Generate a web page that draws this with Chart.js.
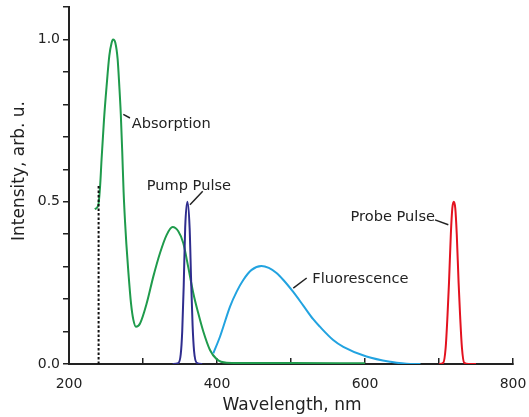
<!DOCTYPE html>
<html>
<head>
<meta charset="utf-8">
<script src="https://cdn.jsdelivr.net/npm/chart.js@4/dist/chart.umd.min.js"></script>
<style>
html,body{margin:0;padding:0;background:#fff;}
#wrap{width:529px;height:417px;}
</style>
</head>
<body>
<div id="wrap"><canvas id="c" width="529" height="417"></canvas></div>
<script>
// ---- data ----
const absorptionX = [235,239.6,242,244,247.3,250.8,254.5,257.6,259.5,262.6,265.7,268,270,272,273.8,275.7,277.5,280,283.8,287,290.5,296,305,314,323,332,340,347.7,354.5,361,368,374.7,381.5,390.5,399.5,413,450,500,600];
const absorptionY = [0.477,0.49,0.547,0.63,0.753,0.856,0.95,0.99,1.0,0.99,0.94,0.856,0.77,0.65,0.53,0.44,0.37,0.29,0.187,0.136,0.115,0.125,0.187,0.27,0.342,0.398,0.422,0.409,0.372,0.30,0.218,0.156,0.10,0.043,0.015,0.004,0.003,0.003,0.002];

const pumpX = [340,347.7,351,353,355,357,360,363,365,367,369,372.5,380];
const pumpY = [0,0.003,0.03,0.1,0.24,0.42,0.5,0.42,0.26,0.12,0.04,0.004,0];

const fluorescenceX = [395,404,417.6,426.6,435.5,446.8,460,470,480,490,503,516.6,530,539,557,570.7,602,633.8,661,675];
const fluorescenceY = [0.033,0.084,0.177,0.223,0.259,0.29,0.302,0.296,0.281,0.258,0.222,0.18,0.138,0.115,0.074,0.053,0.023,0.007,0.0,0.0];

const probeX = [700,705.8,709,711.5,713.5,716,718,720,722,724,726.5,728.5,731,734,740,750];
const probeY = [0,0.004,0.05,0.15,0.25,0.4,0.48,0.5,0.48,0.4,0.25,0.15,0.05,0.004,0,0];

const markerX = [240,240];
const markerY = [0,0.55];

const xTickLabels = ['200','400','600','800'];
const yTickLabels = ['0.0','0.5','1.0'];

// label annotations: text, anchor (data units), leader line ends (data units)
const labelTexts = ['Absorption','Pump Pulse','Fluorescence','Probe Pulse'];
const labelAnchorX = [284.7,305,528.8,694.6];
const labelAnchorY = [0.727,0.537,0.249,0.442];
const labelAlign = ['left','left','left','right'];
const leaderX1 = [273.4,363.5,503.1,694.6];
const leaderY1 = [0.769,0.491,0.234,0.444];
const leaderX2 = [282.4,380.7,521.2,712.6];
const leaderY2 = [0.758,0.532,0.265,0.429];

const pts = (xs, ys) => xs.map((x, i) => ({x: x, y: ys[i]}));

const FONT = '"DejaVu Sans", Verdana, sans-serif';
const INK = '#222222';

const annotations = {
  id: 'annotations',
  afterDatasetsDraw(chart) {
    const ctx = chart.ctx, xs = chart.scales.x, ys = chart.scales.y, ca = chart.chartArea;
    ctx.save();
    ctx.strokeStyle = INK; ctx.lineWidth = 1.5;
    for (let i = 0; i < labelTexts.length; i++) {
      ctx.beginPath();
      ctx.moveTo(xs.getPixelForValue(leaderX1[i]), ys.getPixelForValue(leaderY1[i]));
      ctx.lineTo(xs.getPixelForValue(leaderX2[i]), ys.getPixelForValue(leaderY2[i]));
      ctx.stroke();
    }
    ctx.fillStyle = INK;
    ctx.font = '14.6px ' + FONT;
    ctx.textBaseline = 'alphabetic';
    for (let i = 0; i < labelTexts.length; i++) {
      ctx.textAlign = labelAlign[i];
      ctx.fillText(labelTexts[i], xs.getPixelForValue(labelAnchorX[i]), ys.getPixelForValue(labelAnchorY[i]));
    }
    ctx.font = '17px ' + FONT;
    ctx.textAlign = 'center';
    ctx.fillText('Wavelength, nm', (ca.left + ca.right) / 2 + 1, ca.bottom + 46);
    ctx.save();
    ctx.translate(ca.left - 45, ca.top + 164);
    ctx.rotate(-Math.PI / 2);
    ctx.fillText('Intensity, arb. u.', 0, 0);
    ctx.restore();
    ctx.restore();
  }
};

const lineDs = (data, color, order) => ({
  data: data, borderColor: color, borderWidth: 2, pointRadius: 0,
  cubicInterpolationMode: 'monotone', fill: false, order: order
});

new Chart(document.getElementById('c'), {
  type: 'line',
  data: {
    datasets: [
      lineDs(pts(absorptionX, absorptionY), '#1f9b4c', 4),
      lineDs(pts(fluorescenceX, fluorescenceY), '#22a3e0', 3),
      lineDs(pts(pumpX, pumpY), '#2f2d8e', 1),
      lineDs(pts(probeX, probeY), '#e3121f', 2),
      Object.assign(lineDs(pts(markerX, markerY), '#111111', 0), {borderDash: [2.5, 2], cubicInterpolationMode: 'default', tension: 0})
    ]
  },
  options: {
    responsive: false,
    animation: false,
    events: [],
    layout: {padding: {top: 7, right: 16, left: 0, bottom: 0}},
    plugins: {legend: {display: false}, tooltip: {enabled: false}},
    scales: {
      x: {
        type: 'linear', min: 200, max: 800,
        border: {color: INK, width: 2},
        grid: {drawOnChartArea: false, color: INK, lineWidth: 1.5, tickLength: -6},
        ticks: {
          stepSize: 100, autoSkip: false, maxRotation: 0, color: INK, padding: 18,
          font: {family: FONT, size: 14},
          callback: (v) => { const s = String(Math.round(v)); return xTickLabels.includes(s) ? s : ''; }
        },
        afterFit: (s) => { s.height = 53; s.paddingLeft = 0; s.paddingRight = 0; }
      },
      y: {
        min: 0, max: 1.1,
        border: {color: INK, width: 2},
        grid: {drawOnChartArea: false, color: INK, lineWidth: 1.5, tickLength: 6},
        ticks: {
          stepSize: 0.1, autoSkip: false, color: INK, padding: 3,
          font: {family: FONT, size: 14},
          callback: (v) => { const s = v.toFixed(1); return yTickLabels.includes(s) ? s : ''; }
        },
        afterFit: (s) => { s.width = 69; s.paddingTop = 0; s.paddingBottom = 0; }
      }
    }
  },
  plugins: [annotations]
});
</script>
</body>
</html>
